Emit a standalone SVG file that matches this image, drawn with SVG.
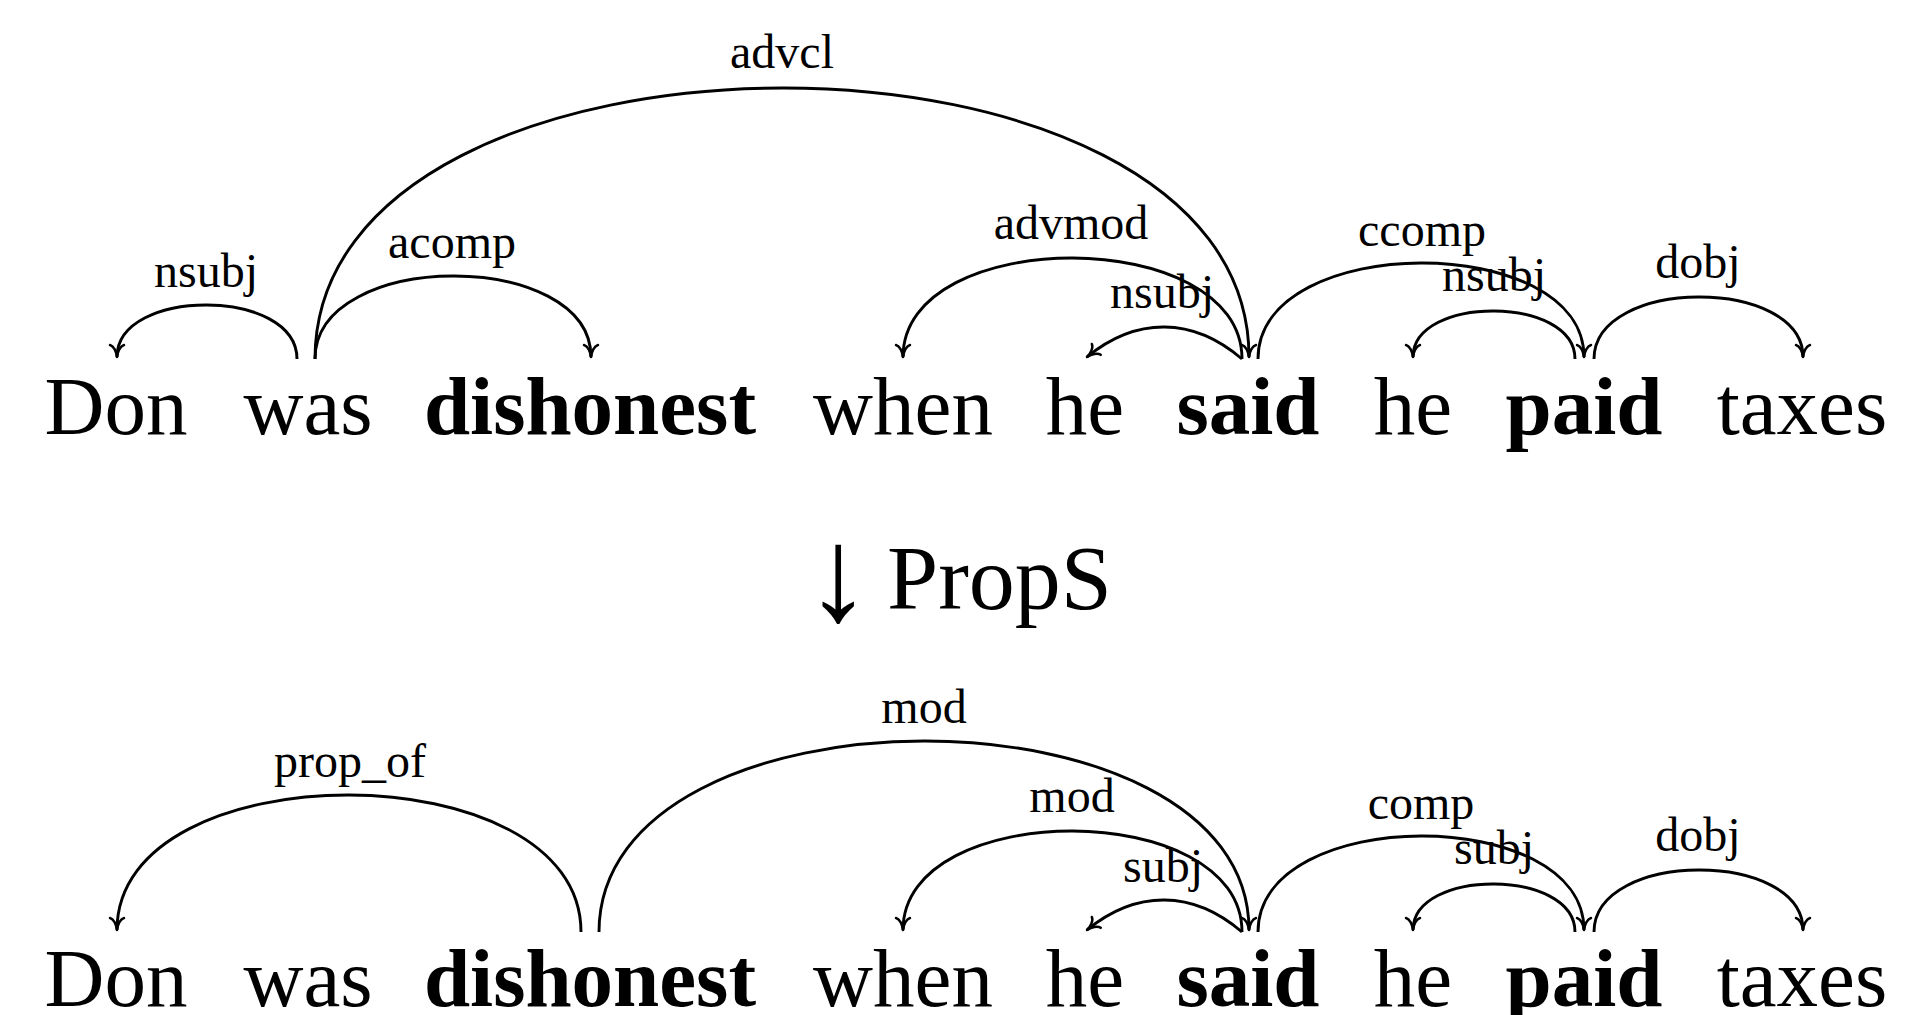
<svg xmlns="http://www.w3.org/2000/svg" width="1906" height="1015" viewBox="0 0 1906 1015">
<defs>
<style>
.w{font-family:"Liberation Serif","Times New Roman",serif;font-size:83px;fill:#000;text-anchor:middle}
.b{font-weight:bold}
.lbl{font-family:"Liberation Serif","Times New Roman",serif;font-size:48px;fill:#000;text-anchor:middle}
.arc{fill:none;stroke:#000;stroke-width:2.9;marker-end:url(#tip)}
.title{font-family:"Liberation Serif","Times New Roman",serif;font-size:92px;fill:#000}
</style>
<marker id="tip" markerUnits="userSpaceOnUse" viewBox="-14 -9 16 18" refX="0" refY="0" markerWidth="16" markerHeight="18" orient="auto" overflow="visible">
<path d="M-12,-7 C-11,-3.2 -5.5,-0.6 0,0 C-5.5,0.6 -11,3.2 -12,7" fill="none" stroke="#000" stroke-width="2.5" stroke-linecap="round" stroke-linejoin="round"/>
</marker>
</defs>
<rect width="1906" height="1015" fill="#fff"/>

<g id="sentence-before">
<g id="t-don"><text class="w" x="116" y="434">Don</text></g>
<g id="t-was"><text class="w" x="308" y="434">was</text></g>
<g id="t-dishonest"><text class="w b" x="590" y="434">dishonest</text></g>
<g id="t-when"><text class="w" x="903" y="434">when</text></g>
<g id="t-he1"><text class="w" x="1085" y="434">he</text></g>
<g id="t-said"><text class="w b" x="1248" y="434">said</text></g>
<g id="t-he2"><text class="w" x="1413" y="434">he</text></g>
<g id="t-paid"><text class="w b" x="1584" y="434">paid</text></g>
<g id="t-taxes"><text class="w" x="1802" y="434">taxes</text></g>
</g>

<g id="connectors-before">
<g id="e-nsubj-1"><path class="arc" d="M297,359 C297,287.3 117,287.3 117,357"/><text class="lbl" x="206" y="287">nsubj</text></g>
<g id="e-acomp"><path class="arc" d="M315,359 C315,248.7 591,248.7 591,357"/><text class="lbl" x="452" y="258">acomp</text></g>
<g id="e-advcl"><path class="arc" d="M315,359 C315,-2 1249,-2 1249,357"/><text class="lbl" x="782" y="68">advcl</text></g>
<g id="e-advmod"><path class="arc" d="M1242,359 C1242,224.7 903,224.7 903,357"/><text class="lbl" x="1071" y="239">advmod</text></g>
<g id="e-nsubj-2"><path class="arc" d="M1242,359 C1192.8,316.7 1136.2,316.7 1087,357"/><text class="lbl" x="1162" y="308">nsubj</text></g>
<g id="e-ccomp"><path class="arc" d="M1258,359 C1258,231.3 1584,231.3 1584,357"/><text class="lbl" x="1422" y="246">ccomp</text></g>
<g id="e-nsubj-3"><path class="arc" d="M1575,359 C1575,295.3 1413,295.3 1413,357"/><text class="lbl" x="1494" y="291">nsubj</text></g>
<g id="e-dobj-1"><path class="arc" d="M1594,359 C1594,276.7 1803,276.7 1803,357"/><text class="lbl" x="1698" y="278">dobj</text></g>
</g>

<g id="transform-label">
<text class="title" x="838" y="620" style="font-size:134px;text-anchor:middle">↓</text>
<text class="title" x="887" y="609">PropS</text>
</g>

<g id="sentence-after">
<g id="b-don"><text class="w" x="116" y="1006">Don</text></g>
<g id="b-was"><text class="w" x="308" y="1006">was</text></g>
<g id="b-dishonest"><text class="w b" x="590" y="1006">dishonest</text></g>
<g id="b-when"><text class="w" x="903" y="1006">when</text></g>
<g id="b-he1"><text class="w" x="1085" y="1006">he</text></g>
<g id="b-said"><text class="w b" x="1248" y="1006">said</text></g>
<g id="b-he2"><text class="w" x="1413" y="1006">he</text></g>
<g id="b-paid"><text class="w b" x="1584" y="1006">paid</text></g>
<g id="b-taxes"><text class="w" x="1802" y="1006">taxes</text></g>
</g>

<g id="connectors-after">
<g id="f-prop-of"><path class="arc" d="M581,932 C581,749.7 117,749.7 117,930"/><text class="lbl" x="350" y="777">prop_of</text></g>
<g id="f-mod-1"><path class="arc" d="M599,932 C599,677.7 1249,677.7 1249,930"/><text class="lbl" x="924" y="723">mod</text></g>
<g id="f-mod-2"><path class="arc" d="M1242,932 C1242,797.7 903,797.7 903,930"/><text class="lbl" x="1072" y="812">mod</text></g>
<g id="f-subj-1"><path class="arc" d="M1242,932 C1192.8,889.7 1136.2,889.7 1087,930"/><text class="lbl" x="1163" y="882">subj</text></g>
<g id="f-comp"><path class="arc" d="M1258,932 C1258,804.3 1584,804.3 1584,930"/><text class="lbl" x="1421" y="819">comp</text></g>
<g id="f-subj-2"><path class="arc" d="M1575,932 C1575,868.3 1413,868.3 1413,930"/><text class="lbl" x="1494" y="864">subj</text></g>
<g id="f-dobj"><path class="arc" d="M1594,932 C1594,849.7 1803,849.7 1803,930"/><text class="lbl" x="1698" y="851">dobj</text></g>
</g>
</svg>
